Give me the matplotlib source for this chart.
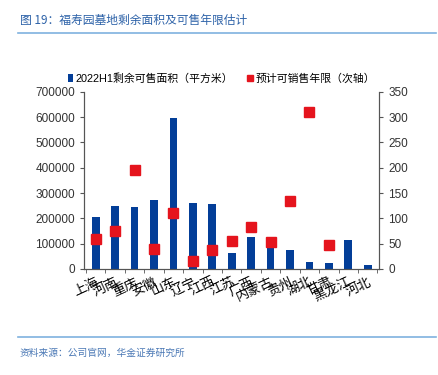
import numpy as np
import matplotlib
matplotlib.use("Agg")
import matplotlib.pyplot as plt

plt.rcParams['font.family'] = ['Liberation Sans', 'Noto Sans CJK SC', 'DejaVu Sans']

provinces = ['上海', '河南', '重庆', '安徽', '山东', '辽宁', '江西', '江苏', '广西',
             '内蒙古', '贵州', '湖北', '甘肃', '黑龙江', '河北']
area = [205000, 247000, 245000, 271000, 598000, 262000, 256000, 63000, 127000,
        95000, 75000, 27000, 25000, 116000, 14000]
years = [60, 74, 196, 40, 111, 16, 38, 55, 83, 54, 134, 310, 48, np.nan, np.nan]

bar_color = '#033e98'
dot_color = '#e5141d'
title_color = '#2d62a8'

fig = plt.figure(figsize=(4.38, 3.75), dpi=100)
ax = fig.add_axes([0.192, 0.283, 0.674, 0.472])
ax2 = ax.twinx()

x = np.arange(len(provinces))
ax.bar(x, area, width=0.4, color=bar_color, zorder=2,
       label='2022H1剩余可售面积（平方米）')
ax2.plot(x, years, 's', color=dot_color, markersize=6.5, linestyle='none',
         zorder=3, label='预计可销售年限（次轴）')

ax.set_xlim(-0.6, len(provinces) - 0.4)
ax.set_ylim(0, 700000)
ax2.set_ylim(0, 350)
ax.set_yticks(range(0, 700001, 100000))
ax2.set_yticks(range(0, 351, 50))

ax.set_xticks(x)
ax.set_xticklabels(provinces, rotation=25, ha='right', rotation_mode='anchor',
                   fontsize=9.5)
ax.set_xticks(np.arange(-0.5, len(provinces), 1), minor=True)
ax.tick_params(axis='x', which='major', length=0, pad=5)
ax.tick_params(axis='x', which='minor', length=3, color='#555555')
ax.tick_params(axis='y', labelsize=8.5, length=3, color='#555555', labelcolor='#333333')
ax2.tick_params(axis='y', labelsize=8.5, length=3, color='#555555', labelcolor='#333333')

for a in (ax, ax2):
    a.spines['top'].set_visible(False)
    for s in ('left', 'right', 'bottom'):
        a.spines[s].set_color('#555555')
        a.spines[s].set_linewidth(0.8)

ax.legend(loc='lower left', bbox_to_anchor=(-0.07, 1.02), frameon=False,
          fontsize=7.8, handlelength=0.5, handletextpad=0.2, borderaxespad=0)
ax2.legend(loc='lower right', bbox_to_anchor=(1.0, 1.02), frameon=False,
           fontsize=7.8, handlelength=0.5, handletextpad=0.2, borderaxespad=0,
           markerscale=0.6)

fig.text(0.045, 0.945, '图 19：福寿园墓地剩余面积及可售年限估计', color=title_color,
         fontsize=8.5, va='center', family=['Noto Sans CJK SC', 'DejaVu Sans'])
fig.add_artist(plt.Line2D([0.04, 0.995], [0.912, 0.912], color='#7fb2df', lw=1.2))
fig.add_artist(plt.Line2D([0.04, 0.995], [0.102, 0.102], color='#7fb2df', lw=1.2))
fig.text(0.045, 0.06, '资料来源：公司官网，华金证券研究所', color='#4a78b5',
         fontsize=7, style='italic', va='center',
         family=['Noto Sans CJK SC', 'DejaVu Sans'])

fig.savefig('out.png', dpi=100)
